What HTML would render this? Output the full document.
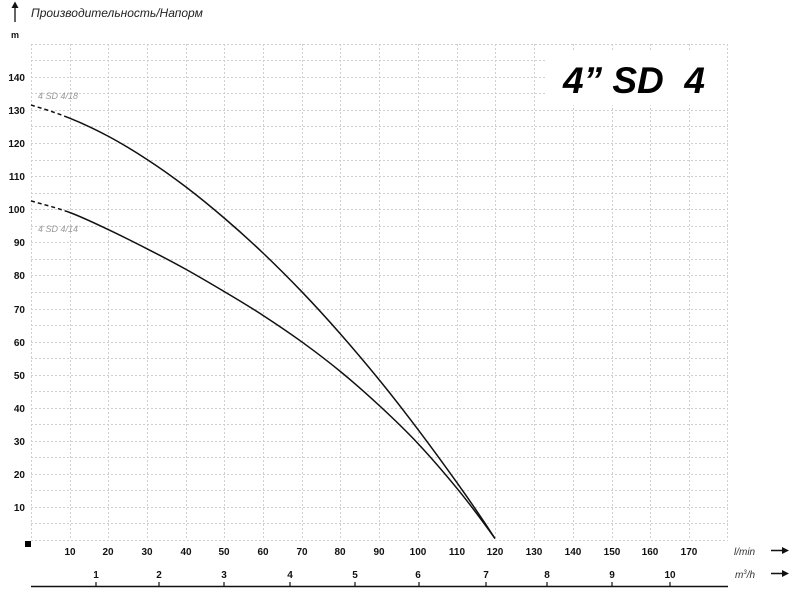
<!DOCTYPE html>
<html><head><meta charset="utf-8"><style>
html,body{margin:0;padding:0;background:#fff;}
svg{display:block;font-family:"Liberation Sans",sans-serif;}
</style></head><body>
<svg width="794" height="601" viewBox="0 0 794 601" xmlns="http://www.w3.org/2000/svg">
<g stroke="#cfcfcf" stroke-width="1" stroke-dasharray="2,2" fill="none">
<path d="M31.5 44V540M70.5 44V540M108.5 44V540M147.5 44V540M186.5 44V540M224.5 44V540M263.5 44V540M302.5 44V540M340.5 44V540M379.5 44V540M418.5 44V540M457.5 44V540M495.5 44V540M534.5 44V540M573.5 44V540M612.5 44V540M650.5 44V540M689.5 44V540M727.5 44V540"/>
<path d="M31 44.5H728M31 60.5H728M31 77.5H728M31 93.5H728M31 110.5H728M31 126.5H728M31 143.5H728M31 160.5H728M31 176.5H728M31 193.5H728M31 209.5H728M31 226.5H728M31 242.5H728M31 259.5H728M31 275.5H728M31 292.5H728M31 309.5H728M31 325.5H728M31 342.5H728M31 358.5H728M31 375.5H728M31 391.5H728M31 408.5H728M31 424.5H728M31 441.5H728M31 457.5H728M31 474.5H728M31 490.5H728M31 507.5H728M31 523.5H728M31 540.5H728"/>
</g>
<rect x="545" y="50" width="180" height="55" fill="#fff"/>
<text x="563" y="93" font-size="37" font-weight="bold" font-style="italic" fill="#000">4” SD&#160;&#160;4</text>
<g fill="none" stroke="#111" stroke-width="1.5" stroke-dasharray="4 3 4 3 4 3 4 3 4 3 2000">
<path d="M31 105 C43.9 108.9 56.8 113 69.75 118.2 C82.7 123.4 95.6 129.5 108.5 136.4 C121.4 143.3 134.3 151.2 147.25 159.6 C160.2 168 173.1 177.2 186 187 C198.9 196.8 211.8 207.4 224.75 218.5 C237.7 229.6 250.6 241.2 263.5 253.5 C276.4 265.8 289.3 278.7 302.25 292.2 C315.2 305.7 328.1 319.9 341 334.6 C353.9 349.3 366.8 364.6 379.75 380.5 C392.7 396.4 405.6 413.1 418.5 430.2 C431.4 447.3 444.3 465 457.25 483.1 C470.2 501.2 483 519.9 495 538.5"/>
<path d="M31 200.9 C43.9 204.7 56.8 207.7 69.75 212.5 C82.7 217.3 95.6 223.6 108.5 229.7 C121.4 235.8 134.3 242.3 147.25 248.9 C160.2 255.5 173.1 262.2 186 269.4 C198.9 276.6 211.8 284.2 224.75 291.9 C237.7 299.6 250.6 307.3 263.5 315.7 C276.4 324.1 289.3 332.8 302.25 342.2 C315.2 351.6 328.1 361.4 341 372 C353.9 382.6 366.8 394 379.75 406 C392.7 418 405.6 430.3 418.5 444.1 C431.4 457.9 444.3 472.9 457.25 488.7 C470.2 504.5 483 521.8 495 538.5"/>
</g>
<text x="38" y="99" font-size="9" font-style="italic" fill="#999">4 SD 4/18</text>
<text x="38" y="232" font-size="9" font-style="italic" fill="#999">4 SD 4/14</text>
<g font-size="10" font-weight="bold" text-anchor="end" fill="#111">
<text x="25" y="81">140</text><text x="25" y="114">130</text><text x="25" y="147">120</text><text x="25" y="180">110</text><text x="25" y="213">100</text><text x="25" y="246">90</text><text x="25" y="279">80</text><text x="25" y="313">70</text><text x="25" y="346">60</text><text x="25" y="379">50</text><text x="25" y="412">40</text><text x="25" y="445">30</text><text x="25" y="478">20</text><text x="25" y="511">10</text>
</g>
<text x="11" y="38" font-size="9" font-weight="bold" fill="#111">m</text>
<path d="M15 22V6" stroke="#111" stroke-width="1.3"/><path d="M11.5 8L15 1.5L18.5 8Z" fill="#111"/>
<text x="31" y="17" font-size="12" font-style="italic" fill="#222">Производительность/Напорм</text>
<rect x="25" y="541" width="6" height="6" fill="#000"/>
<g font-size="10" font-weight="bold" text-anchor="middle" fill="#111">
<text x="70" y="555">10</text><text x="108" y="555">20</text><text x="147" y="555">30</text><text x="186" y="555">40</text><text x="224" y="555">50</text><text x="263" y="555">60</text><text x="302" y="555">70</text><text x="340" y="555">80</text><text x="379" y="555">90</text><text x="418" y="555">100</text><text x="457" y="555">110</text><text x="495" y="555">120</text><text x="534" y="555">130</text><text x="573" y="555">140</text><text x="612" y="555">150</text><text x="650" y="555">160</text><text x="689" y="555">170</text>
<text x="96" y="578">1</text><text x="159" y="578">2</text><text x="224" y="578">3</text><text x="290" y="578">4</text><text x="355" y="578">5</text><text x="418" y="578">6</text><text x="486" y="578">7</text><text x="547" y="578">8</text><text x="612" y="578">9</text><text x="670" y="578">10</text>
</g>
<g font-size="10" font-style="italic" fill="#333">
<text x="734" y="555">l/min</text>
<text x="735" y="578">m<tspan font-size="6" dy="-4">3</tspan><tspan dy="4">/h</tspan></text>
</g>
<path d="M771 550.5H784M771 573.5H784" stroke="#111" stroke-width="1.5"/>
<path d="M782 547L789 550.5L782 554ZM782 570L789 573.5L782 577Z" fill="#111"/>
<path d="M31 586.5H728" stroke="#111" stroke-width="1.5"/>
<path d="M96 582V586M159 582V586M224 582V586M290 582V586M355 582V586M419 582V586M486 582V586M547 582V586M612 582V586M670 582V586" stroke="#111" stroke-width="1.2"/>
</svg>
</body></html>
